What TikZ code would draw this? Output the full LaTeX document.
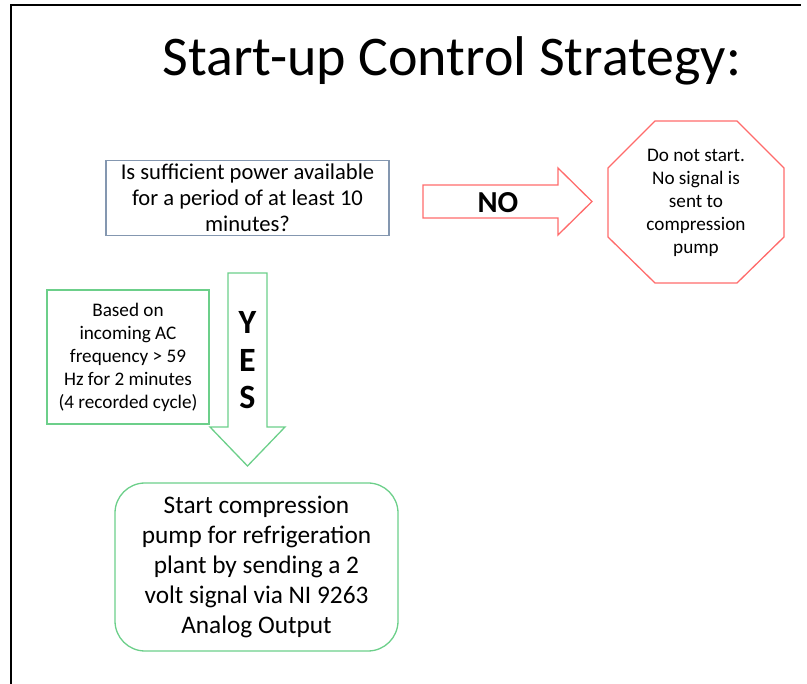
\documentclass[tikz,border=0pt]{standalone}
\usepackage{fontspec}
\setmainfont{Carlito}
\definecolor{qblue}{HTML}{8497B0}
\definecolor{nored}{HTML}{FF6B6B}
\definecolor{yesgreen}{HTML}{6CCF8A}
\begin{document}
\begin{tikzpicture}[x=1pt,y=-1pt,
  boxline/.style={line width=1.3pt},
  txt/.style={align=center,inner sep=0pt,text=black},
  small/.style={txt,font=\fontsize{19.2}{23}\selectfont},
  yesletter/.style={txt,font=\bfseries\fontsize{34}{36}\selectfont},
]
\useasboundingbox (0,0) rectangle (807,684);
% frame
\draw[line width=2.2pt] (11,684) -- (11,5) -- (801,5);
% title
\node[txt,anchor=base,font=\fontsize{56}{66}\selectfont] (title) at (452,76) {Start-up Control Strategy:};
% question box
\node[draw=qblue,boxline,minimum width=283pt,minimum height=75pt,
      txt,font=\fontsize{22.6}{26}\selectfont] (q) at (247.5,198)
  {Is sufficient power available\\for a period of at least 10\\minutes?};
% NO arrow
\draw[nored,boxline,line join=miter] (423,185) -- (558,185) -- (558,168) -- (592,201.5)
  -- (558,235) -- (558,218) -- (423,218) -- cycle;
\node[txt,font=\bfseries\fontsize{30.5}{32}\selectfont] (no) at (498,203) {NO};
% stop octagon
\draw[nored,boxline] (655,121) -- (737,121) -- (784,168) -- (784,237) -- (737,283)
  -- (655,283) -- (608,237) -- (608,168) -- cycle;
\node[small] (stop) at (696,203)
  {Do not start.\\No signal is\\sent to\\compression\\pump};
% YES arrow
\draw[yesgreen,boxline] (228,273) -- (267,273) -- (267,427) -- (285,427) -- (247.5,466)
  -- (210,427) -- (228,427) -- cycle;
\node[yesletter] (y) at (247.5,322) {Y};
\node[yesletter] (e) at (247.5,360) {E};
\node[yesletter] (s) at (247.5,397) {S};
% note box
\node[draw=yesgreen,boxline,minimum width=162pt,minimum height=134pt,small] (note) at (128,357)
  {Based on\\incoming AC\\frequency > 59\\Hz for 2 minutes\\(4 recorded cycle)};
% start box
\node[draw=yesgreen,boxline,rounded corners=30pt,minimum width=283pt,minimum height=168pt,
      txt,font=\fontsize{25.3}{30}\selectfont] (start) at (256.5,567)
  {Start compression\\pump for refrigeration\\plant by sending a 2\\volt signal via NI 9263\\Analog Output};
\end{tikzpicture}
\end{document}
